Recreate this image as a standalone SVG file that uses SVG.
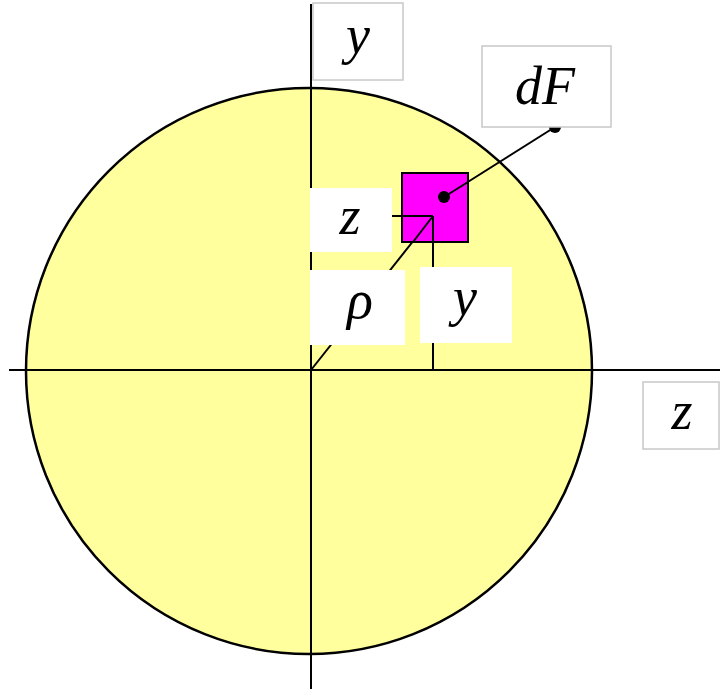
<svg xmlns="http://www.w3.org/2000/svg" width="720" height="689" viewBox="0 0 720 689">
<style>
.ax{stroke:#000;stroke-width:2;fill:none}
.ln{stroke:#000;stroke-width:2;fill:none}
.lbl{font-family:"Liberation Serif","Times New Roman",serif;font-style:italic;font-size:54px;fill:#000;text-anchor:middle}
.wb{fill:#fff}
.bb{fill:#fff;stroke:#c8c8c8;stroke-width:1.5}
</style>
<rect width="720" height="689" fill="#fff"/>
<g id="circle"><circle cx="309" cy="371" r="283" fill="#ffff9e" stroke="#000" stroke-width="2.5"/></g>
<g id="connectors">
<line class="ax" x1="311" y1="4" x2="311" y2="689"/>
<line class="ax" x1="9" y1="370" x2="720" y2="370"/>
<line class="ln" x1="392" y1="216" x2="433" y2="216"/>
<line class="ln" x1="433" y1="216" x2="433" y2="370"/>
<line class="ln" x1="433" y1="216" x2="311" y2="370"/>
<line class="ln" x1="444" y1="197" x2="555" y2="127"/>
</g>
<g id="element"><rect x="402" y="173" width="66" height="69" fill="#ff00ff" stroke="#000" stroke-width="2"/>
<line class="ln" x1="402" y1="216" x2="433" y2="216"/>
<line class="ln" x1="433" y1="216" x2="433" y2="242"/>
<line class="ln" x1="433" y1="216" x2="413" y2="242"/>
<line class="ln" x1="444" y1="197" x2="468" y2="182"/>
<circle cx="444" cy="197" r="6" fill="#000"/></g>
<g id="dot"><circle cx="555" cy="127" r="6" fill="#000"/></g>
<g id="label-y-top"><rect class="bb" x="313" y="3" width="90" height="77"/><text class="lbl" x="358" y="53">y</text></g>
<g id="label-dF"><rect class="bb" x="482" y="46" width="129" height="81"/><text class="lbl" x="545" y="104">dF</text></g>
<g id="label-z-in"><rect class="wb" x="310" y="188" width="82" height="64"/><text class="lbl" x="350" y="234">z</text></g>
<g id="label-rho"><rect class="wb" x="310" y="270" width="95" height="75"/><text class="lbl" x="360" y="318">ρ</text></g>
<g id="label-y-in"><rect class="wb" x="420" y="267" width="92" height="76"/><text class="lbl" x="465" y="315">y</text></g>
<g id="label-z-out"><rect class="bb" x="643" y="382" width="76" height="67"/><text class="lbl" x="682" y="429">z</text></g>
</svg>
